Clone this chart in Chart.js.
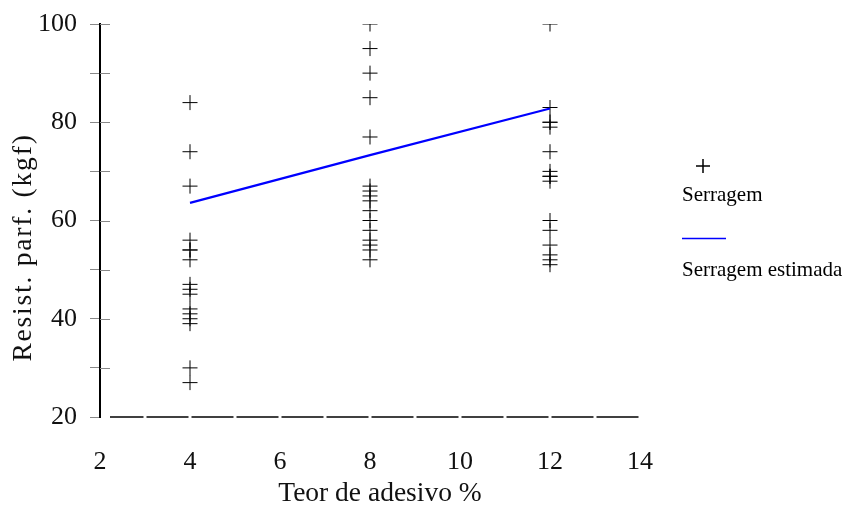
<!DOCTYPE html>
<html><head><meta charset="utf-8">
<script src="https://cdn.jsdelivr.net/npm/chart.js@4/dist/chart.umd.min.js"></script>
<style>html,body{margin:0;padding:0;background:#fff}#wrap{position:relative;width:846px;height:513px}</style>
</head><body><div id="wrap"><canvas id="c" width="846" height="513"></canvas></div>
<script>
// ---- data ----
const groupX = [4, 8, 12];
const serragem4 = [84, 74, 67, 56, 54, 54, 52, 47, 46, 45, 42, 41, 40, 39, 30, 27];
const serragem8 = [100, 95, 90, 85, 77, 67, 66, 65, 64, 62, 60, 58, 56, 55, 54, 52];
const serragem12 = [100, 83, 80, 80, 79, 74, 70, 69, 69, 68, 60, 58, 55, 53, 52, 51];
const estimX = [4, 8, 12];
const estimY = [63.6, 73.3, 82.8];
const xTickLabels = [2, 4, 6, 8, 10, 12, 14];
const yTickLabels = [20, 40, 60, 80, 100];
const seriesNames = ['Serragem', 'Serragem estimada'];
const xTitle = 'Teor de adesivo %';
const yTitle = 'Resist. parf. (kgf)';

const groups = [serragem4, serragem8, serragem12];
const scatterPts = [];
groups.forEach((arr, i) => arr.forEach(v => scatterPts.push({x: groupX[i], y: v})));
const linePts = estimX.map((x, i) => ({x, y: estimY[i]}));

const FONT = "'Liberation Serif', 'Times New Roman', serif";

function shiftTitle(scale, dx, dy, spacing) {
  scale.drawTitle = function () {
    const ctx = this.ctx;
    ctx.save();
    ctx.translate(dx, dy);
    if (spacing) ctx.letterSpacing = spacing;
    Chart.Scale.prototype.drawTitle.call(this);
    ctx.restore();
  };
}

const axisDecor = {
  id: 'axisDecor',
  afterDraw(chart) {
    const s = chart.scales.y, xs = chart.scales.x, ctx = chart.ctx;
    ctx.save();
    ctx.strokeStyle = '#888';
    ctx.lineWidth = 1;
    s.ticks.forEach(t => {
      if (t.value <= s.min) return;
      const py = Math.round(s.getPixelForValue(t.value)) + 0.5;
      ctx.beginPath();
      ctx.moveTo(s.right, py);
      ctx.lineTo(s.right + 10, py);
      ctx.stroke();
    });
    ctx.strokeStyle = '#000';
    ctx.lineWidth = 1.5;
    const yb = xs.top;
    for (let v = xs.min; v < xs.max; v++) {
      const a = xs.getPixelForValue(v) + (v === xs.min ? 10 : 1.5);
      const b = xs.getPixelForValue(v + 1) - 1.5;
      ctx.beginPath();
      ctx.moveTo(a, yb);
      ctx.lineTo(b, yb);
      ctx.stroke();
    }
    ctx.restore();
  }
};

const sideLegend = {
  id: 'sideLegend',
  afterDraw(chart) {
    const ctx = chart.ctx;
    const ds = chart.data.datasets;
    ctx.save();
    ctx.font = '21px ' + FONT;
    ctx.fillStyle = '#000';
    ctx.textBaseline = 'middle';
    ctx.textAlign = 'left';
    ctx.strokeStyle = ds[0].borderColor;
    ctx.lineWidth = 1.5;
    Chart.helpers.drawPoint(ctx, {pointStyle: 'cross', radius: 7, rotation: 0, borderWidth: 1.5}, 703, 166);
    ctx.fillText(ds[0].label, 682, 195);
    ctx.strokeStyle = ds[1].borderColor;
    ctx.lineWidth = 1.5;
    ctx.beginPath();
    ctx.moveTo(682, 238.5);
    ctx.lineTo(726, 238.5);
    ctx.stroke();
    ctx.fillText(ds[1].label, 682, 270);
    ctx.restore();
  }
};

new Chart(document.getElementById('c'), {
  data: {
    datasets: [
      {
        type: 'scatter',
        label: seriesNames[0],
        data: scatterPts,
        pointStyle: 'cross',
        pointRadius: 7.5,
        pointHoverRadius: 7.5,
        borderColor: '#000',
        backgroundColor: '#000',
        borderWidth: 1,
        order: 2
      },
      {
        type: 'line',
        label: seriesNames[1],
        data: linePts,
        borderColor: '#0000ff',
        borderWidth: 2.2,
        pointRadius: 0,
        fill: false,
        tension: 0,
        order: 1
      }
    ]
  },
  options: {
    responsive: false,
    animation: false,
    devicePixelRatio: 1,
    layout: {padding: {top: 24, right: 206, left: 0, bottom: 0}},
    plugins: {legend: {display: false}, tooltip: {enabled: false}},
    scales: {
      x: {
        type: 'linear',
        min: 2, max: 14,
        afterFit(s) { s.height = 96; s.paddingLeft = 0; s.paddingRight = 0; shiftTitle(s, 10, 0, null); },
        afterBuildTicks(s) { s.ticks = xTickLabels.map(v => ({value: v})); },
        grid: {display: false},
        border: {display: false},
        ticks: {color: '#111', font: {family: FONT, size: 26}, padding: 22, maxRotation: 0},
        title: {display: true, text: xTitle, color: '#111', font: {family: FONT, size: 27.5}, padding: {top: 4, bottom: 3}}
      },
      y: {
        type: 'linear',
        min: 20, max: 100,
        afterFit(s) { s.width = 100; s.paddingTop = 0; s.paddingBottom = 0; shiftTitle(s, 1, 27, '1.8px'); },
        ticks: {
          stepSize: 10,
          color: '#111',
          font: {family: FONT, size: 26},
          padding: 13,
          callback: v => yTickLabels.includes(v) ? String(v) : ''
        },
        grid: {display: true, drawOnChartArea: false, drawTicks: true, tickLength: 10, tickColor: '#888', lineWidth: 1},
        border: {display: true, color: '#000', width: 2},
        title: {display: true, text: yTitle, color: '#111', font: {family: FONT, size: 27.5}, padding: {top: 6, bottom: 4}}
      }
    }
  },
  plugins: [axisDecor, sideLegend]
});
</script>
</body></html>
